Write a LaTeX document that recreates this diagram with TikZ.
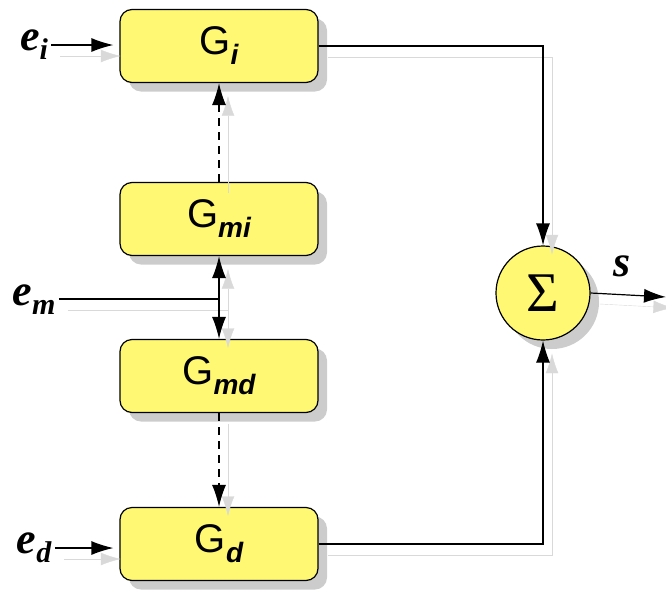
\documentclass[tikz,border=0pt]{standalone}
\usepackage{fontspec}
\setmainfont{Liberation Serif}
\setsansfont{Liberation Sans}
\usepackage{tikz}
\usetikzlibrary{arrows.meta,shadows}

\newcommand{\blocklabel}[1]{\sffamily\fontsize{40}{44}\selectfont G\raisebox{-10pt}{\fontsize{28}{30}\selectfont\bfseries\itshape #1}}
\newcommand{\inlabel}[1]{\bfseries\itshape\fontsize{44}{48}\selectfont e\raisebox{-9pt}{\fontsize{30}{32}\selectfont #1}}

\begin{document}
\begin{tikzpicture}[x=1pt,y=-1pt,>={Latex[length=22pt,width=14pt]}]
                \tikzstyle{block}=[rectangle, rounded corners=12pt, minimum width=198pt, minimum height=73pt, line width=1.2pt, draw=black, fill=yellow!55, drop shadow={shadow xshift=9pt, shadow yshift=-9pt, fill=gray!40, opacity=1}]
                \tikzstyle{summer}=[circle, minimum size=94pt, inner sep=0pt, line width=1.2pt, draw=black, fill=yellow!55, drop shadow={shadow xshift=9pt, shadow yshift=-9pt, fill=gray!40, opacity=1}]
                \tikzstyle{connect}=[line width=1.2pt, preaction={draw=gray!30, transform canvas={shift={(9pt,-11pt)}}}]
                \tikzstyle{hint}=[dash pattern=on 8pt off 6pt]
                \useasboundingbox (0,0) rectangle (666,592);
                \node[block] (gi) at (219,46){\blocklabel{i}};
                \node[block] (gmi) at (219,219){\blocklabel{mi}};
                \node[block] (gmd) at (219,376){\blocklabel{md}};
                \node[block] (gd) at (219,544){\blocklabel{d}};
                \node[summer] (sum) at (543,293){\fontsize{56}{60}\selectfont Σ};
    \node (ei) at (34,45){\inlabel{i}};
                \node (em) at (34,300){\inlabel{m}};
                \node (ed) at (34,548){\inlabel{d}};
                \node (s) at (622,266){\bfseries\itshape\fontsize{44}{48}\selectfont s};
                \coordinate (junction) at (219,299);
                \coordinate (out) at (666,297);
                \draw[connect,->,shorten >=6pt] (ei.east) -- (gi.west |- ei.east);
                \draw[connect,->,shorten >=6pt] (ed.east) -- (gd.west |- ed.east);
                \draw[connect] (em.east |- junction) -- (junction);
                \draw[connect,->] (junction) -- (gmi.south);
                \draw[connect,->] (junction) -- (gmd.north);
                \draw[connect,->,hint] (gmi.north) -- (gi.south);
                \draw[connect,->,hint] (gmd.south) -- (gd.north);
                \draw[connect,->] (gi.east) -| (sum.north);
                \draw[connect,->] (gd.east) -| (sum.south);
                \draw[connect,->] (sum.east) -- (out);
    
    \end{tikzpicture}
\end{document}
